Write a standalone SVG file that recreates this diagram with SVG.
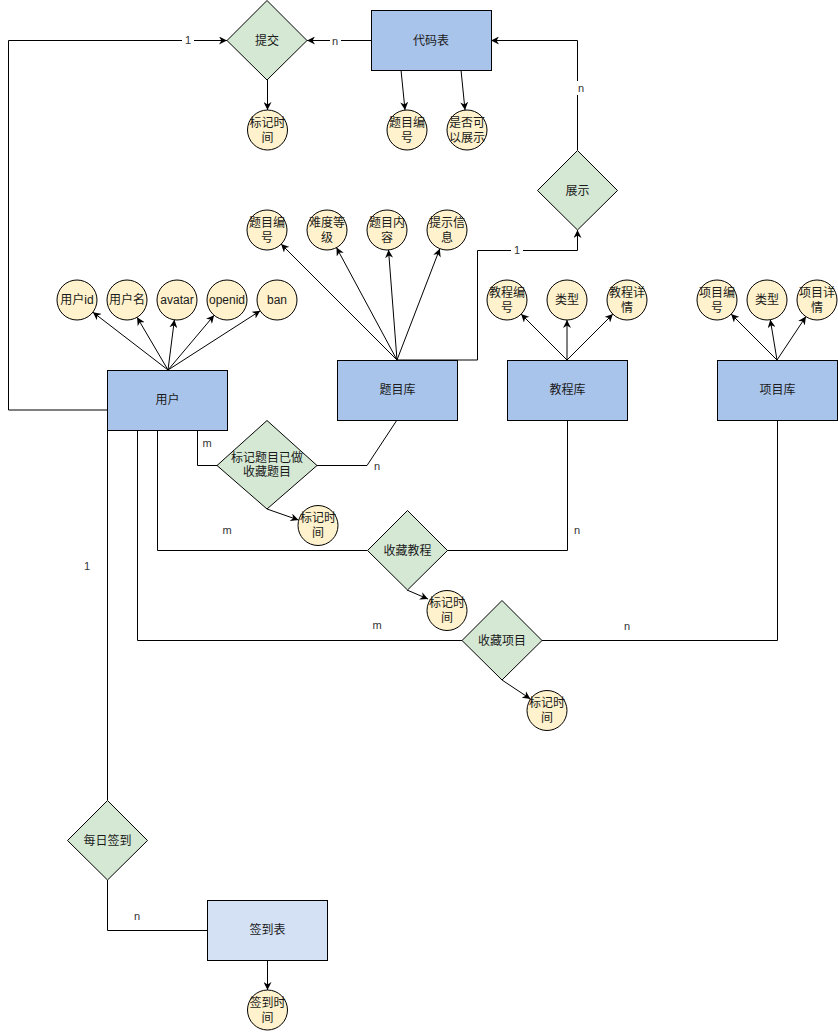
<svg xmlns="http://www.w3.org/2000/svg" width="838" height="1032" viewBox="0 0 838 1032">
<style>
.ent{fill:#A9C4EB;stroke:#000;stroke-width:1}
.ent2{fill:#D4E1F5;stroke:#000;stroke-width:1}
.rel{fill:#D5E8D4;stroke:#000;stroke-width:1}
.att{fill:#FFF2CC;stroke:#000;stroke-width:1}
text{font-family:"Liberation Sans","Noto Sans CJK SC",sans-serif;font-size:12px;fill:#1a1a1a;text-anchor:middle;dominant-baseline:central}
.lbl{font-size:11px;fill:#333}
.edge{fill:none;stroke:#000;stroke-width:1}
.arr{marker-end:url(#ah)}
</style>
<defs>
<marker id="ah" viewBox="0 0 10 10" refX="10" refY="5" markerWidth="8" markerHeight="8" markerUnits="userSpaceOnUse" orient="auto">
<path d="M0,0 L10,5 L0,10 L3,5 Z" fill="#000"/>
</marker>
</defs>
<rect width="838" height="1032" fill="#fff"/>
<g id="connectors">
<path class="edge arr" d="M371,40.5 L307,40.5"/>
<path class="edge arr" d="M108,410 L8.5,410 L8.5,40.5 L227,40.5"/>
<path class="edge arr" d="M397,360 L477.5,360 L477.5,250.5 L577.5,250.5 L577.5,230"/>
<path class="edge arr" d="M577.5,150 L577.5,40.5 L491,40.5"/>
<path class="edge arr" d="M267.5,80 L267.5,110"/>
<path class="edge arr" d="M401,70 L405,110"/>
<path class="edge arr" d="M461,70 L465,110"/>
<path class="edge arr" d="M168,370 L92.9,312.2"/>
<path class="edge arr" d="M168,370 L137.1,317.3"/>
<path class="edge arr" d="M168,370 L174.4,319.8"/>
<path class="edge arr" d="M168,370 L214.1,315.3"/>
<path class="edge arr" d="M168,370 L260.2,310.8"/>
<path class="edge arr" d="M397,360 L281.1,244.1"/>
<path class="edge arr" d="M397,360 L336.5,247.6"/>
<path class="edge arr" d="M397,360 L388.5,249.9"/>
<path class="edge arr" d="M397,360 L439.8,248.7"/>
<path class="edge arr" d="M567,360 L521.1,314.1"/>
<path class="edge arr" d="M567,360 L567,320"/>
<path class="edge arr" d="M567,360 L612.9,314.1"/>
<path class="edge arr" d="M777,360 L731.1,314.1"/>
<path class="edge arr" d="M777,360 L770.3,319.7"/>
<path class="edge arr" d="M777,360 L805.9,316.6"/>
<path class="edge" d="M197.5,430 L197.5,465.5 L217,465.5"/>
<path class="edge" d="M317,465.5 L367,465.5 L397,420"/>
<path class="edge arr" d="M267,509 L298.5,520"/>
<path class="edge" d="M157.5,430 L157.5,550.5 L367,550.5"/>
<path class="edge" d="M447,550.5 L567.5,550.5 L567.5,420"/>
<path class="edge arr" d="M407,590 L428,599"/>
<path class="edge" d="M137.5,430 L137.5,640.5 L462,640.5"/>
<path class="edge" d="M542,640.5 L777.5,640.5 L777.5,420"/>
<path class="edge arr" d="M502,680 L530.4,698.9"/>
<path class="edge" d="M107.5,430 L107.5,800"/>
<path class="edge" d="M107.5,880 L107.5,930.5 L207,930.5"/>
<path class="edge arr" d="M267.5,960 L267.5,990"/>
<rect x="182" y="33" width="12" height="14" fill="#fff"/>
<text class="lbl" x="188" y="40">1</text>
<rect x="330" y="33" width="11" height="14" fill="#fff"/>
<text class="lbl" x="335" y="41">n</text>
<rect x="511" y="243" width="12" height="14" fill="#fff"/>
<text class="lbl" x="517" y="250">1</text>
<rect x="575" y="81" width="11" height="14" fill="#fff"/>
<text class="lbl" x="581" y="88">n</text>
<text class="lbl" x="207" y="443">m</text>
<text class="lbl" x="377" y="466">n</text>
<text class="lbl" x="227" y="530">m</text>
<text class="lbl" x="577" y="530">n</text>
<text class="lbl" x="377" y="625">m</text>
<text class="lbl" x="627" y="626">n</text>
<text class="lbl" x="87" y="566">1</text>
<text class="lbl" x="137" y="916">n</text>
</g>
<g id="tijiao"><polygon class="rel" points="267,0.5 307,40.5 267,80 227,40.5"/><text x="267" y="41">提交</text></g>
<g id="daimabiao"><rect class="ent" x="371.5" y="10.5" width="120" height="60"/><text x="431" y="41">代码表</text></g>
<g id="tijiao-time"><circle class="att" cx="267.5" cy="130" r="20"/><text x="267.5" y="123">标记时</text><text x="267.5" y="138">间</text></g>
<g id="dm-bianhao"><circle class="att" cx="407" cy="130" r="20"/><text x="407" y="123">题目编</text><text x="407" y="138">号</text></g>
<g id="dm-show"><circle class="att" cx="467" cy="130" r="20"/><text x="467" y="123">是否可</text><text x="467" y="138">以展示</text></g>
<g id="zhanshi"><polygon class="rel" points="577.5,150.5 617.5,190.5 577.5,230 537.5,190.5"/><text x="577.5" y="191">展示</text></g>
<g id="tk-bianhao"><circle class="att" cx="267" cy="230" r="20"/><text x="267" y="223">题目编</text><text x="267" y="238">号</text></g>
<g id="tk-nandu"><circle class="att" cx="327" cy="230" r="20"/><text x="327" y="223">难度等</text><text x="327" y="238">级</text></g>
<g id="tk-neirong"><circle class="att" cx="387" cy="230" r="20"/><text x="387" y="223">题目内</text><text x="387" y="238">容</text></g>
<g id="tk-tishi"><circle class="att" cx="447" cy="230" r="20"/><text x="447" y="223">提示信</text><text x="447" y="238">息</text></g>
<g id="u-id"><circle class="att" cx="77" cy="300" r="20"/><text x="77" y="300">用户id</text></g>
<g id="u-name"><circle class="att" cx="127" cy="300" r="20"/><text x="127" y="300">用户名</text></g>
<g id="u-avatar"><circle class="att" cx="177" cy="300" r="20"/><text x="177" y="300">avatar</text></g>
<g id="u-openid"><circle class="att" cx="227" cy="300" r="20"/><text x="227" y="300">openid</text></g>
<g id="u-ban"><circle class="att" cx="277" cy="300" r="20"/><text x="277" y="300">ban</text></g>
<g id="jc-bianhao"><circle class="att" cx="507" cy="300" r="20"/><text x="507" y="293">教程编</text><text x="507" y="308">号</text></g>
<g id="jc-leixing"><circle class="att" cx="567" cy="300" r="20"/><text x="567" y="300">类型</text></g>
<g id="jc-xiangqing"><circle class="att" cx="627" cy="300" r="20"/><text x="627" y="293">教程详</text><text x="627" y="308">情</text></g>
<g id="xm-bianhao"><circle class="att" cx="717" cy="300" r="20"/><text x="717" y="293">项目编</text><text x="717" y="308">号</text></g>
<g id="xm-leixing"><circle class="att" cx="767" cy="300" r="20"/><text x="767" y="300">类型</text></g>
<g id="xm-xiangqing"><circle class="att" cx="817" cy="300" r="20"/><text x="817" y="293">项目详</text><text x="817" y="308">情</text></g>
<g id="yonghu"><rect class="ent" x="107.5" y="370.5" width="120" height="60"/><text x="167.5" y="400">用户</text></g>
<g id="tikuku"><rect class="ent" x="337.5" y="360.5" width="120" height="60"/><text x="397.5" y="390">题目库</text></g>
<g id="jiaochengku"><rect class="ent" x="507.5" y="360.5" width="120" height="60"/><text x="567.5" y="390">教程库</text></g>
<g id="xiangmuku"><rect class="ent" x="717.5" y="360.5" width="120" height="60"/><text x="777.5" y="390">项目库</text></g>
<g id="biaoji"><polygon class="rel" points="267,420.5 317,465.5 267,509 217,465.5"/><text x="267" y="458">标记题目已做</text><text x="267" y="472">收藏题目</text></g>
<g id="biaoji-time"><circle class="att" cx="318" cy="525.5" r="20"/><text x="318" y="518">标记时</text><text x="318" y="533">间</text></g>
<g id="shoucang-jc"><polygon class="rel" points="407.5,510.5 447.5,550.5 407.5,590 367.5,550.5"/><text x="407.5" y="551">收藏教程</text></g>
<g id="jc-time"><circle class="att" cx="447" cy="610.5" r="20"/><text x="447" y="603">标记时</text><text x="447" y="618">间</text></g>
<g id="shoucang-xm"><polygon class="rel" points="502,600.5 542,640.5 502,680 462,640.5"/><text x="502" y="641">收藏项目</text></g>
<g id="xm-time"><circle class="att" cx="547" cy="710.5" r="20"/><text x="547" y="703">标记时</text><text x="547" y="718">间</text></g>
<g id="qiandao"><polygon class="rel" points="107.5,800.5 147.5,840.5 107.5,880 67.5,840.5"/><text x="107.5" y="841">每日签到</text></g>
<g id="qiandaobiao"><rect class="ent2" x="207.5" y="900.5" width="120" height="60"/><text x="267.5" y="930">签到表</text></g>
<g id="qd-time"><circle class="att" cx="267.5" cy="1010" r="20"/><text x="267.5" y="1003">签到时</text><text x="267.5" y="1018">间</text></g>
</svg>
